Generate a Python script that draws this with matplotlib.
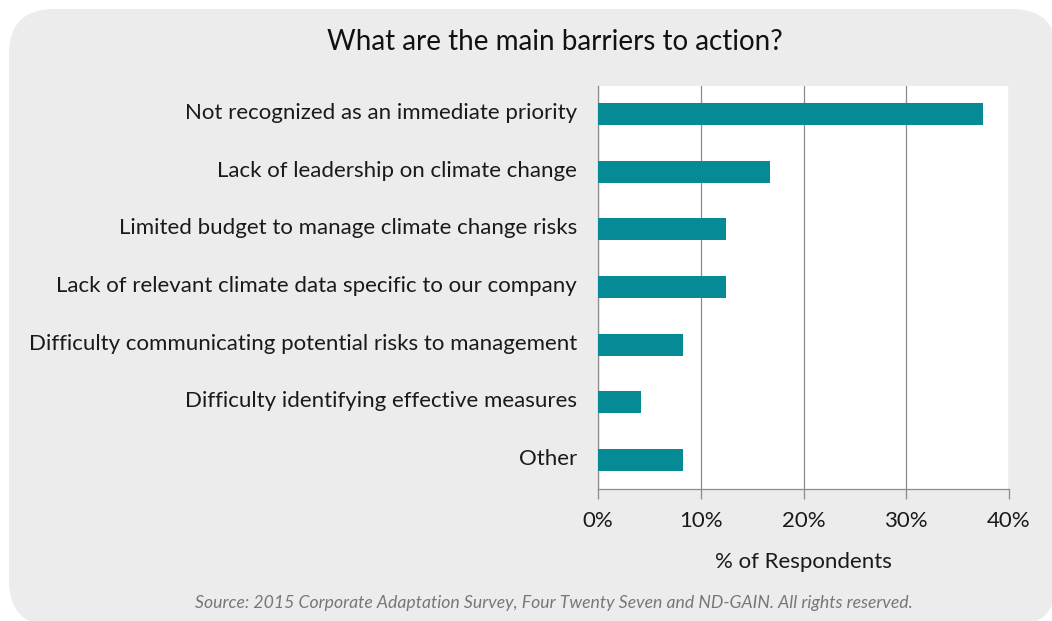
import matplotlib
matplotlib.use("Agg")
import matplotlib.pyplot as plt
from matplotlib.patches import FancyBboxPatch
from matplotlib.ticker import FuncFormatter
from matplotlib.transforms import ScaledTranslation

categories = [
    "Not recognized as an immediate priority",
    "Lack of leadership on climate change",
    "Limited budget to manage climate change risks",
    "Lack of relevant climate data specific to our company",
    "Difficulty communicating potential risks to management",
    "Difficulty identifying effective measures",
    "Other",
]
values = [37.5, 16.7, 12.5, 12.5, 8.3, 4.2, 8.3]
xticks = [0, 10, 20, 30, 40]

title = "What are the main barriers to action?"
xlabel = "% of Respondents"
source = "Source: 2015 Corporate Adaptation Survey, Four Twenty Seven and ND-GAIN. All rights reserved."

plt.rcParams['font.family'] = ['Lato', 'DejaVu Sans']

W, H = 1052, 621
fig = plt.figure(figsize=(W / 100, H / 100), dpi=100)
fig.patch.set_facecolor("white")

# rounded gray background in pixel coordinates
axbg = fig.add_axes([0, 0, 1, 1], zorder=-5)
axbg.set_xlim(0, W)
axbg.set_ylim(H, 0)
axbg.axis("off")
axbg.add_patch(FancyBboxPatch((9, 9), 1057 - 9, 626 - 9,
                              boxstyle="round,pad=0,rounding_size=45",
                              facecolor="#ececec", edgecolor="none"))

ax = fig.add_axes([598 / W, 1 - 488.5 / H, 411 / W, 403 / H])
ax.set_facecolor("white")
y = list(range(len(categories)))
ax.barh(y, values, height=0.38, color="#058a96", zorder=3)
ax.set_ylim(len(categories) - 0.5, -0.5)
ax.set_xlim(0, 40)
ax.set_xticks(xticks)
ax.xaxis.set_major_formatter(FuncFormatter(lambda v, p: f"{v:.0f}%"))
ax.grid(axis="x", color="#8c8c8c", linewidth=0.9, zorder=1)
ax.set_yticks(y)
ax.set_yticklabels(categories, fontsize=16, color="#1a1a1a")
ax.tick_params(axis="y", length=0, pad=15)
shift = ScaledTranslation(0, 3 / 100, fig.dpi_scale_trans)
for lab in ax.get_yticklabels():
    lab.set_transform(lab.get_transform() + shift)
ax.tick_params(axis="x", length=7, color="#8c8c8c", width=0.9, labelsize=16,
               labelcolor="#1a1a1a", pad=9)
for s in ["top", "right"]:
    ax.spines[s].set_visible(False)
for s in ["left", "bottom"]:
    ax.spines[s].set_color("#8c8c8c")
    ax.spines[s].set_linewidth(0.9)
ax.set_xlabel(xlabel, fontsize=16, color="#1a1a1a", labelpad=15)

fig.text(555 / W, 1 - 42 / H, title, ha="center", va="center", fontsize=20, color="#111111")
fig.text(554 / W, 1 - 603 / H, source, ha="center", va="center", fontsize=12.7,
         style="italic", color="#777777")

fig.savefig("out.png", dpi=100, facecolor=fig.get_facecolor())
